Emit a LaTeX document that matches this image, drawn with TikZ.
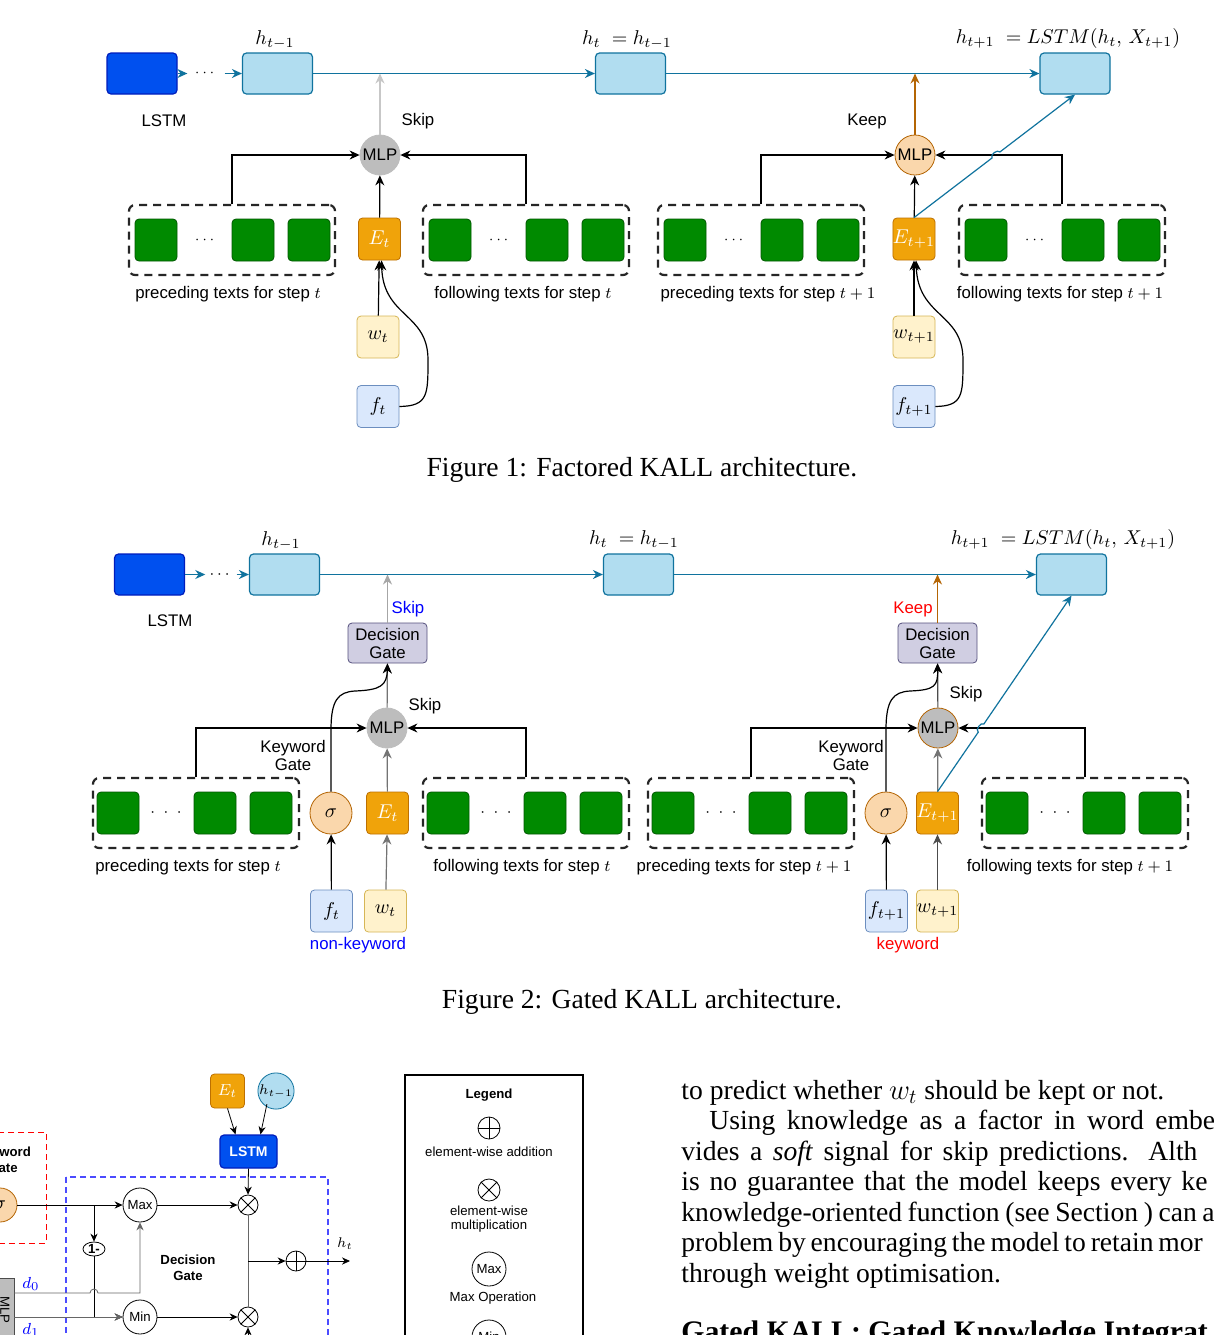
\documentclass[tikz,border=0pt]{standalone}
\usepackage{fontspec}
\setmainfont{Liberation Serif}
\setsansfont{Liberation Sans}
\usepackage{amsmath,amssymb}
\usepackage{tikz}
\usetikzlibrary{arrows.meta,calc,shapes.geometric}

\definecolor{lstmblue}{HTML}{0050EF}
\definecolor{lstmdark}{HTML}{001DBC}
\definecolor{hidfill}{HTML}{B1DDF0}
\definecolor{hidline}{HTML}{10739E}
\definecolor{grnfill}{HTML}{008A00}
\definecolor{grnline}{HTML}{005700}
\definecolor{orgfill}{HTML}{F0A30A}
\definecolor{orgline}{HTML}{BD7000}
\definecolor{ylwfill}{HTML}{FFF2CC}
\definecolor{ylwline}{HTML}{D6B656}
\definecolor{bluefill}{HTML}{DAE8FC}
\definecolor{blueline}{HTML}{6C8EBF}
\definecolor{peach}{HTML}{FAD7AC}
\definecolor{peachline}{HTML}{B46504}
\definecolor{gatefill}{HTML}{D0CEE2}
\definecolor{gateline}{HTML}{56517E}
\definecolor{mlpgray}{HTML}{BDBDBD}
\definecolor{skipgray}{HTML}{A6A6A6}

\newcommand{\dgfont}{\sffamily\fontsize{8.4}{10}\selectfont}
\newcommand{\smfont}{\sffamily\fontsize{6.6}{7.8}\selectfont}
\newcommand{\lblfont}{\fontsize{10}{12}\selectfont}
\newcommand{\txtfont}{\fontsize{13.8}{15}\selectfont}

\tikzset{
  every node/.style={font=\dgfont},
  arr/.style={-{Stealth[length=5pt,width=4.5pt]}},
  sarr/.style={-{Stealth[length=4pt,width=3.6pt]}},
  seqline/.style={draw=hidline, line width=0.6pt, arr},
  ctxline/.style={draw=black, line width=0.6pt, arr},
  lstmbox/.style={draw=lstmdark, fill=lstmblue, rounded corners=2pt, minimum width=35pt, minimum height=20.5pt, inner sep=0pt, line width=0.6pt},
  hidbox/.style={draw=hidline, fill=hidfill, rounded corners=2pt, minimum width=35pt, minimum height=20.5pt, inner sep=0pt, line width=0.6pt},
  wordbox/.style={draw=grnline, fill=grnfill, rounded corners=2pt, minimum size=21pt, inner sep=0pt},
  ctxgroup/.style={draw=black!85, line width=1.1pt, dash pattern=on 4pt off 3pt, rounded corners=3pt, minimum width=103pt, minimum height=35pt, inner sep=0pt},
  embbox/.style={draw=orgline, fill=orgfill, rounded corners=2pt, minimum size=21pt, inner sep=0pt, text=white, font=\lblfont},
  wrdbox/.style={draw=ylwline, fill=ylwfill, rounded corners=2pt, minimum size=21pt, inner sep=0pt, font=\lblfont},
  featbox/.style={draw=blueline, fill=bluefill, rounded corners=2pt, minimum size=21pt, inner sep=0pt, font=\lblfont},
  mlpnode/.style={circle, fill=mlpgray, draw=mlpgray, minimum size=20pt, inner sep=0pt},
  keepmlp/.style={circle, fill=peach, draw=peachline, minimum size=20pt, inner sep=0pt},
  signode/.style={circle, fill=peach, draw=peachline, minimum size=21pt, inner sep=0pt, font=\lblfont},
  gatebox/.style={draw=gateline, fill=gatefill, rounded corners=2pt, minimum width=39.5pt, minimum height=20pt, inner sep=0pt, align=center, font=\dgfont\linespread{0.9}\selectfont},
  mathlbl/.style={font=\lblfont},
  opnode/.style={circle, draw, minimum size=17pt, inner sep=0pt, font=\smfont},
  dotnode/.style={circle, draw, minimum size=10pt, inner sep=0pt},
}

\begin{document}
\begin{tikzpicture}[x=0.5pt,y=-0.5pt]
\useasboundingbox (0,0) rectangle (1214,1335);
\clip (0,0) rectangle (1214,1335);
\fill[white] (0,0) rectangle (1214,1335);

% ================= Figure 1: factored =================
\node[lstmbox] (lstma) at (142,73.5) {};
\node[inner sep=3.5pt] (dotsa) at (206,73.5) {\scriptsize$\cdots$};
\node[hidbox] (hpa) at (277.5,73.5) {};
\node[hidbox] (hca) at (630.5,73.5) {};
\node[hidbox] (hna) at (1075,73.5) {};
\node[mathlbl] at (275,40) {$h_{t-1}$};
\node[mathlbl] at (627,40) {$h_t\;=h_{t-1}$};
\node[mathlbl] at (1068,38) {$h_{t+1}\;=LSTM(h_t,\,X_{t+1})$};
\node at (164,121) {LSTM};

\draw[seqline] (lstma.east) -- (dotsa.west);
\draw[seqline] (dotsa.east) -- (hpa.west);
\draw[seqline] (hpa.east) -- (hca.west);
\draw[seqline] (hca.east) -- (hna.west);

% context groups
\foreach \gx/\gy/\gn in {232/240/pa, 526/240/fa, 761/240/pb, 1062/240/fb}{
  \node[ctxgroup] (\gn) at (\gx,\gy) {};
  \foreach \dx in {-76,21,77} \node[wordbox] at (\gx+\dx,\gy) {};
  \node at (\gx-26,\gy) {\scriptsize$\cdots$};
}
\node at (228,294) {preceding texts for step $t$};
\node at (523,294) {following texts for step $t$};
\node at (768,294) {preceding texts for step $t+1$};
\node at (1060,294) {following texts for step $t+1$};

% step t (skip)
\node[mlpnode] (mlpa) at (380,155) {MLP};
\node[embbox] (eta) at (379.5,239) {$E_t$};
\node[wrdbox] (wa) at (378,337) {$w_t$};
\node[featbox] (fta) at (378,406.5) {$f_t$};
\node at (418,121) {Skip};
\draw[ctxline] (pa.north) |- (mlpa.west);
\draw[ctxline] (fa.north) |- (mlpa.east);
\draw[ctxline] (eta) -- (mlpa);
\draw[ctxline] (wa) -- (eta);
\draw[ctxline] (fta.east) .. controls (428,406) and (428,395) .. (428,360)
  .. controls (428,312) and (383,318) .. ([xshift=1pt]eta.south);
\draw[draw=black!22, line width=0.6pt, arr] (mlpa.north) -- (mlpa.north |- hpa.east);

% step t+1 (keep)
\node[keepmlp] (mlpb) at (915,155) {MLP};
\node[embbox] (etb) at (914,239) {$E_{t+1}$};
\node[wrdbox] (wb) at (914,337) {$w_{t+1}$};
\node[featbox] (ftb) at (914,406.5) {$f_{t+1}$};
\node at (867,121) {Keep};
\draw[ctxline] (pb.north) |- (mlpb.west);
\draw[ctxline] (fb.north) |- (mlpb.east);
\draw[ctxline] (etb) -- (mlpb);
\draw[ctxline] (wb) -- (etb);
\draw[ctxline] (ftb.east) .. controls (963,406) and (963,395) .. (963,360)
  .. controls (963,312) and (918,318) .. ([xshift=1pt]etb.south);
\draw[draw=peachline, line width=0.6pt, arr] (mlpb.north) -- (mlpb.north |- hna.west);
\coordinate (crossa) at (intersection of etb.north--hna.south and 0,155--1200,155);
\draw[seqline] (etb.north) -- ($(crossa)!2.5pt!(etb.north)$) to[bend left=90] ($(crossa)!2.5pt!(hna.south)$) -- (hna.south);

\node[font=\txtfont, anchor=base] at (642,476) {Figure 1: Factored KALL architecture.};

% ================= Figure 2: gated =================
\node[lstmbox] (lstmc) at (149.5,574.5) {};
\node[inner sep=2pt] (dotsc) at (221,574.5) {$\cdots$};
\node[hidbox] (hpc) at (284.5,574.5) {};
\node[hidbox] (hcc) at (638.5,574.5) {};
\node[hidbox] (hnc) at (1071.5,574.5) {};
\node[mathlbl] at (281,541) {$h_{t-1}$};
\node[mathlbl] at (634,540) {$h_t\;=h_{t-1}$};
\node[mathlbl] at (1063,539) {$h_{t+1}\;=LSTM(h_t,\,X_{t+1})$};
\node at (170,621) {LSTM};

\draw[seqline] (lstmc.east) -- (dotsc.west);
\draw[seqline] (dotsc.east) -- (hpc.west);
\draw[seqline] (hpc.east) -- (hcc.west);
\draw[seqline] (hcc.east) -- (hnc.west);

\foreach \gx/\gy/\gn in {196/813/pc, 526/813/fc, 751/813/pd, 1085/813/fd}{
  \node[ctxgroup] (\gn) at (\gx,\gy) {};
  \foreach \dx in {-78,19,75} \node[wordbox] at (\gx+\dx,\gy) {};
  \node at (\gx-30,\gy) {$\cdot\;\cdot\;\cdot$};
}
\node at (188,867) {preceding texts for step $t$};
\node at (522,867) {following texts for step $t$};
\node at (744,867) {preceding texts for step $t+1$};
\node at (1070,867) {following texts for step $t+1$};

% step t (non-keyword)
\node[gatebox] (dgc) at (387.5,643) {Decision\\Gate};
\node[mlpnode] (mlpc) at (387,728) {MLP};
\node[signode] (sigc) at (331,813) {$\sigma$};
\node[embbox] (etc) at (387.5,813) {$E_t$};
\node[featbox] (ftc) at (331.5,911) {$f_t$};
\node[wrdbox] (wc) at (385.5,911) {$w_t$};
\node[text=blue] at (408,609) {Skip};
\node at (425,706) {Skip};
\node[align=center, font=\dgfont\linespread{0.9}\selectfont] at (293,755) {Keyword\\Gate};
\node[text=blue] at (358,945) {non-keyword};
\draw[ctxline] (pc.north) |- (mlpc.west);
\draw[ctxline] (fc.north) |- (mlpc.east);
\draw[ctxline, draw=black!55] (etc) -- (mlpc);
\draw[ctxline, draw=black!55] (mlpc) -- (dgc);
\draw[ctxline] (ftc) -- (sigc);
\draw[ctxline, draw=black!55] (wc) -- (etc);
\draw[ctxline] (sigc.north) -- (331,730) .. controls (331,700) and (338,692) .. (355,691)
  .. controls (380,690) and (387,686) .. (dgc.south);
\draw[draw=skipgray, line width=0.6pt, arr] (dgc.north) -- (dgc.north |- hpc.east);

% step t+1 (keyword)
\node[gatebox] (dgd) at (937.5,643) {Decision\\Gate};
\node[mlpnode, draw=peachline] (mlpd) at (938,728) {MLP};
\node[signode] (sigd) at (886,813) {$\sigma$};
\node[embbox] (etd) at (937.5,813) {$E_{t+1}$};
\node[featbox] (ftd) at (886.5,911) {$f_{t+1}$};
\node[wrdbox] (wd) at (937.5,911) {$w_{t+1}$};
\node[text=red] at (913,609) {Keep};
\node at (966,694) {Skip};
\node[align=center, font=\dgfont\linespread{0.9}\selectfont] at (851,755) {Keyword\\Gate};
\node[text=red] at (908,945) {keyword};
\draw[ctxline] (pd.north) |- (mlpd.west);
\draw[ctxline] (fd.north) |- (mlpd.east);
\draw[ctxline, draw=black!55] (etd) -- (mlpd);
\draw[ctxline, draw=black!70] (mlpd) -- (dgd);
\draw[ctxline] (ftd) -- (sigd);
\draw[ctxline, draw=black!70] (wd) -- (etd);
\draw[ctxline] (sigd.north) -- (886,730) .. controls (886,700) and (893,692) .. (910,691)
  .. controls (935,690) and (938,686) .. (dgd.south);
\draw[draw=peachline, line width=0.6pt, arr] (dgd.north) -- (dgd.north |- hnc.west);
\coordinate (crossc) at (intersection of etd.north--hnc.south and 0,728--1200,728);
\draw[seqline] (etd.north) -- ($(crossc)!2.5pt!(etd.north)$) to[bend left=90] ($(crossc)!2.5pt!(hnc.south)$) -- (hnc.south);

\node[font=\txtfont, anchor=base] at (642,1008) {Figure 2: Gated KALL architecture.};

% ================= Figure 3: decision gate (partly visible) =================
\draw[red, densely dashed, line width=0.5pt] (-20,1132) rectangle (46,1243);
\draw[blue!70, densely dashed, line width=0.6pt] (66,1177) rectangle (328,1360);
\node[align=center, font=\smfont\bfseries] at (3,1160) {Keyword\\Gate};
\node[align=center, font=\smfont\bfseries] at (188,1268) {Decision\\Gate};

\node[embbox, minimum size=17pt, font=\fontsize{8.5}{10}\selectfont] (etx) at (227.5,1091) {$E_t$};
\node[circle, draw=hidline, fill=hidfill, minimum size=17pt, inner sep=0pt, font=\fontsize{7.5}{9}\selectfont] (hpx) at (276,1091) {$h_{t-1}$};
\node[lstmbox, minimum width=28.5pt, minimum height=16.5pt, text=white, font=\sffamily\bfseries\fontsize{7}{8}\selectfont] (lstmx) at (248.5,1151.5) {LSTM};
\node[signode, minimum size=17pt] (sgx) at (0,1205) {$\sigma$};
\node[draw=black!70, fill=mlpgray, minimum width=12pt, minimum height=34pt, inner sep=0pt] (mlpx) at (2,1312) {};
\node[rotate=-90, font=\smfont] at (5,1310) {MLP};
\node[opnode] (mxx) at (140,1205) {Max};
\node[opnode] (mnx) at (140,1317) {Min};
\node[draw, ellipse, minimum width=11pt, minimum height=7pt, inner sep=0pt, font=\smfont\bfseries] (onem) at (94,1249) {1-};
\node[dotnode] (omu) at (248,1205) {};
\node[dotnode] (omd) at (248,1317) {};
\node[dotnode] (opx) at (296,1261) {};
\draw (omu.north east) -- (omu.south west) (omu.north west) -- (omu.south east);
\draw (omd.north east) -- (omd.south west) (omd.north west) -- (omd.south east);
\draw (opx.north) -- (opx.south) (opx.west) -- (opx.east);
\node[text=blue, font=\fontsize{8}{9}\selectfont] at (31,1284) {$d_0$};
\node[text=blue, font=\fontsize{8}{9}\selectfont] at (31,1330) {$d_1$};
\node[font=\fontsize{7.5}{9}\selectfont] at (345,1244) {$h_t$};

\coordinate (brx) at (94,1205);
\coordinate (dzs) at (14,1293);
\coordinate (dos) at (14,1317);
\coordinate (jnx) at (248,1261);
\coordinate (hout) at (350,1261);
\coordinate (gin) at (248,1345);
\draw[sarr] (etx.south) -- ([xshift=-6.5pt]lstmx.north);
\draw[sarr] ([xshift=2pt]hpx.south west) -- ([xshift=6pt]lstmx.north);
\draw[sarr] (lstmx.south) -- (omu.north);
\draw[sarr] (sgx.east) -- (mxx.west);
\draw[sarr] (brx) -- (onem.north);
\draw[sarr] (onem.south) |- (mnx.west);
\draw[sarr, draw=black!60] (dzs) -- (90,1293) arc[start angle=180, end angle=0, radius=2pt] -- (140,1293) -- (mxx.south);
\draw[sarr, draw=black!60] (dos) -- (mnx.west);
\draw[sarr] (mxx.east) -- (omu.west);
\draw[sarr] (mnx.east) -- (omd.west);
\draw[draw=black!60] (omu.south) -- (omd.north);
\draw[sarr] (jnx) -- (opx.west);
\draw[sarr] (opx.east) -- (hout);
\draw[sarr] (gin) -- (omd.south);

% legend
\draw[line width=0.6pt] (405,1075) rectangle (583,1360);
\node[font=\smfont\bfseries] at (489,1095) {Legend};
\node[circle, draw, minimum size=11pt, inner sep=0pt] (lgadd) at (489,1128) {};
\draw (lgadd.north) -- (lgadd.south) (lgadd.west) -- (lgadd.east);
\node[font=\smfont] at (489,1152) {element-wise addition};
\node[circle, draw, minimum size=11pt, inner sep=0pt] (lgmul) at (489,1190) {};
\draw (lgmul.north east) -- (lgmul.south west) (lgmul.north west) -- (lgmul.south east);
\node[align=center, font=\smfont\linespread{0.9}\selectfont] at (489,1219) {element-wise\\multiplication};
\node[opnode] (lgmax) at (489,1269) {Max};
\node[font=\smfont] at (493,1298) {Max Operation};
\node[opnode] (lgmin) at (489,1337) {Min};

% ================= running text =================
\begin{scope}[every node/.style={font=\txtfont, inner sep=0pt, anchor=base west}]
\node at (681,1099) {to predict whether $w_t$ should be kept or not.};
\node at (709,1129.5) {\makebox[223pt][s]{Using knowledge as a factor in word \rlap{embe}}};
\node at (681,1160) {\makebox[233.5pt][s]{vides a \emph{soft} signal for skip predictions. \rlap{Alth}}};
\node at (681,1190.5) {\makebox[250pt][s]{is no guarantee that the model keeps every \rlap{ke}}};
\node at (681,1221) {\makebox[260.5pt][s]{knowledge-oriented function (see Section ) can \rlap{a}}};
\node at (681,1251.5) {\makebox[238.5pt][s]{problem by encouraging the model to retain \rlap{mor}}};
\node at (681,1282) {through weight optimisation.};
\node[font=\fontsize{14.9}{16}\selectfont\bfseries] at (681,1341) {Gated KALL: Gated Knowledge Integrat};
\end{scope}
\end{tikzpicture}
\end{document}
